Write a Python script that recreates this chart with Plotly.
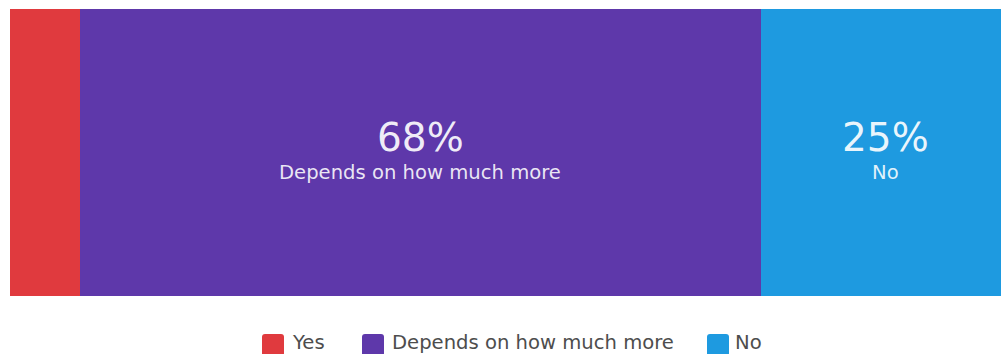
import plotly.graph_objects as go

# Survey answers and their shares (percent)
answers = ["Yes", "Depends on how much more", "No"]
shares = [7, 68, 25]
colors = ["#E03A3E", "#5E38AA", "#1E9AE0"]
show_label = [False, True, True]

FONT = "DejaVu Sans"
W, H = 1001, 354
ML, MR, MT, MB = 10, 0, 9, 58
PW, PH = W - ML - MR, H - MT - MB

fig = go.Figure()
for name, val, col in zip(answers, shares, colors):
    fig.add_trace(go.Bar(
        y=["q"], x=[val], orientation="h", name=name,
        marker=dict(color=col, line=dict(width=0)),
        showlegend=False, hoverinfo="skip",
    ))

# Value + answer labels centred in each segment
start = 0
for name, val, show in zip(answers, shares, show_label):
    mid = start + val / 2
    start += val
    if not show:
        continue
    fig.add_annotation(
        x=mid, y=0, xref="x", yref="y", showarrow=False,
        text=f"{val}%", yanchor="middle", yshift=15,
        font=dict(family=FONT, size=39, color="rgba(255,255,255,0.92)"),
    )
    fig.add_annotation(
        x=mid, y=0, xref="x", yref="y", showarrow=False,
        text=name, yanchor="middle", yshift=-20,
        font=dict(family=FONT, size=19.6, color="rgba(255,255,255,0.88)"),
    )

# Legend row beneath the bar
def px_x(p):
    return (p - ML) / PW

def px_y(p):
    return (H - MB - p) / PH

def rounded_rect(x0, y0, x1, y1, r):
    # corner radius r given in pixels; converted per axis
    rx, ry = r / PW, r / PH
    xa, xb = px_x(x0), px_x(x1)
    ya, yb = px_y(y0), px_y(y1)
    return (f"M{xa + rx},{ya} L{xb - rx},{ya} Q{xb},{ya} {xb},{ya - ry} "
            f"L{xb},{yb + ry} Q{xb},{yb} {xb - rx},{yb} L{xa + rx},{yb} "
            f"Q{xa},{yb} {xa},{yb + ry} L{xa},{ya - ry} Q{xa},{ya} {xa + rx},{ya} Z")

legend_items = [(262, 290), (362, 390), (707, 733)]
for (sx, tx), name, col in zip(legend_items, answers, colors):
    fig.add_shape(
        type="path", xref="paper", yref="paper",
        path=rounded_rect(sx, 334, sx + 22, 356, 3),
        fillcolor=col, line=dict(width=0),
    )
    fig.add_annotation(
        x=px_x(tx), y=px_y(342), xref="paper", yref="paper",
        xanchor="left", yanchor="middle", showarrow=False,
        text=name, font=dict(family=FONT, size=19.6, color="#4d4d4d"),
    )

fig.update_layout(
    barmode="stack", bargap=0,
    width=W, height=H,
    margin=dict(l=ML, r=MR, t=MT, b=MB),
    paper_bgcolor="white", plot_bgcolor="white",
    xaxis=dict(range=[0, 99], visible=False, fixedrange=True),
    yaxis=dict(visible=False, fixedrange=True),
)

fig.write_html("out.html")
